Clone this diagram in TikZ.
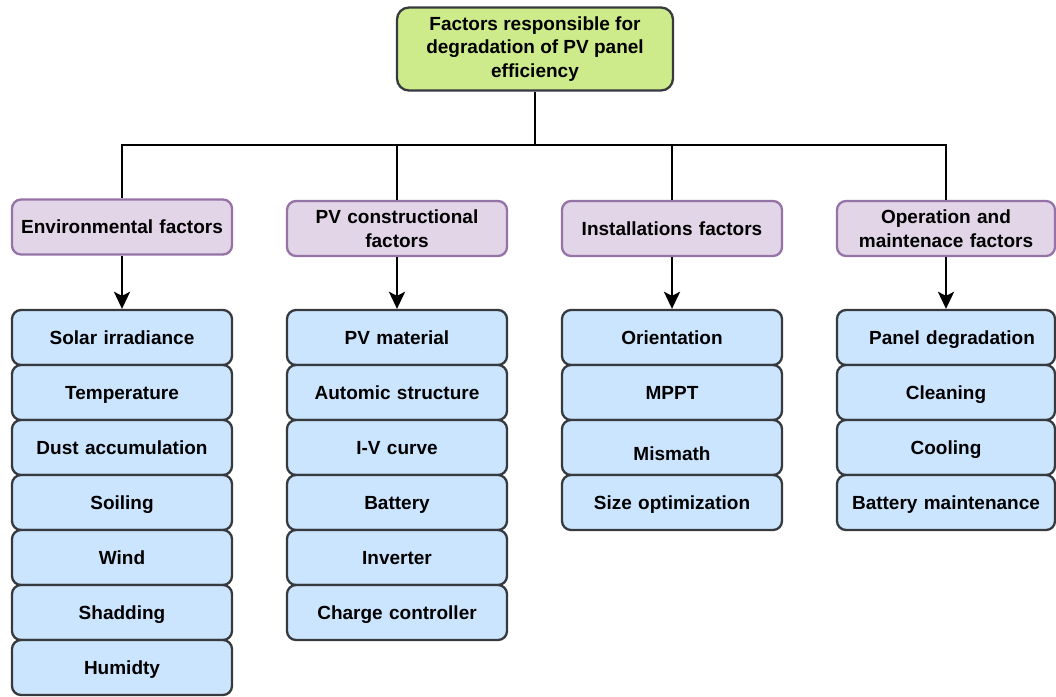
\documentclass[tikz,border=0pt]{standalone}
\usepackage{fontspec}
\setmainfont{Liberation Sans}
\usetikzlibrary{arrows.meta}
\definecolor{rootfill}{HTML}{CDEB8B}
\definecolor{darkline}{HTML}{36393D}
\definecolor{catfill}{HTML}{E1D5E7}
\definecolor{catline}{HTML}{9673A6}
\definecolor{itemfill}{HTML}{CCE5FF}
\tikzset{
  txt/.style={font=\fontsize{19}{23.5}\selectfont\bfseries, text=black},
  base/.style={rectangle, rounded corners=9pt, align=center, line width=2.3pt, txt, inner sep=2pt},
  rootbox/.style={base, draw=darkline, fill=rootfill, minimum width=276pt, minimum height=83pt, rounded corners=12pt},
  catbox/.style={base, draw=catline, fill=catfill, minimum width=220pt, minimum height=55pt, text width=214pt},
  itembox/.style={base, draw=darkline, fill=itemfill, minimum width=220pt, minimum height=55pt, text width=214pt,
    text height=13.6pt, text depth=0pt},
  narrow/.style={minimum width=218pt, text width=212pt},
  link/.style={line width=2.8pt, draw=black},
  arr/.style={line width=2.8pt, draw=black, -{Stealth[length=17pt,width=16pt,inset=4pt]}}
}
\begin{document}
\begin{tikzpicture}[x=1pt,y=-1pt]
\useasboundingbox[fill=white] (0,0) rectangle (1056,696);
\node[rootbox] (root) at (535,49) {\raisebox{-5pt}{\begin{tabular}{@{}c@{}}Factors responsible for\\degradation of PV panel\\efficiency\end{tabular}}};
\coordinate (bus) at (535,145);

\node[catbox] (env) at (122,227) {Environmental factors};
\node[catbox] (pvc) at (397,228.5) {PV constructional\\factors};
\node[catbox] (ins) at (672,228.5) {Installations factors};
\node[catbox, narrow] (opm) at (946,228.5) {Operation and\\maintenace factors};

\draw[link] (root.south) -- (bus);
\draw[link] (bus) -| (env.north);
\draw[link] (bus) -| (pvc.north);
\draw[link] (bus) -| (ins.north);
\draw[link] (bus) -| (opm.north);

% Environmental column
\node[itembox] (e1) at (122,337.5) {Solar irradiance};
\node[itembox] (e2) at (122,392.5) {Temperature};
\node[itembox] (e3) at (122,447.5) {Dust accumulation};
\node[itembox] (e4) at (122,502.5) {Soiling};
\node[itembox] (e5) at (122,557.5) {Wind};
\node[itembox] (e6) at (122,612.5) {Shadding};
\node[itembox] (e7) at (122,667.5) {Humidty};

% PV constructional column
\node[itembox] (p1) at (397,337.5) {PV material};
\node[itembox] (p2) at (397,392.5) {Automic structure};
\node[itembox] (p3) at (397,447.5) {I-V curve};
\node[itembox] (p4) at (397,502.5) {Battery};
\node[itembox] (p5) at (397,557.5) {Inverter};
\node[itembox] (p6) at (397,612.5) {Charge controller};

% Installations column
\node[itembox] (i1) at (672,337.5) {Orientation};
\node[itembox] (i2) at (672,392.5) {MPPT};
\node[itembox, label={[txt, yshift=-6pt]center:Mismath}] (i3) at (672,447.5) {};
\node[itembox] (i4) at (672,502.5) {Size optimization};

% Operation column
\node[itembox, narrow] (o1) at (946,337.5) {\hspace*{12pt}Panel degradation};
\node[itembox, narrow] (o2) at (946,392.5) {Cleaning};
\node[itembox, narrow] (o3) at (946,447.5) {Cooling};
\node[itembox, narrow] (o4) at (946,502.5) {Battery maintenance};

\draw[arr] (env.south) -- (e1.north);
\draw[arr] (pvc.south) -- (p1.north);
\draw[arr] (ins.south) -- (i1.north);
\draw[arr] (opm.south) -- (o1.north);
\end{tikzpicture}
\end{document}
